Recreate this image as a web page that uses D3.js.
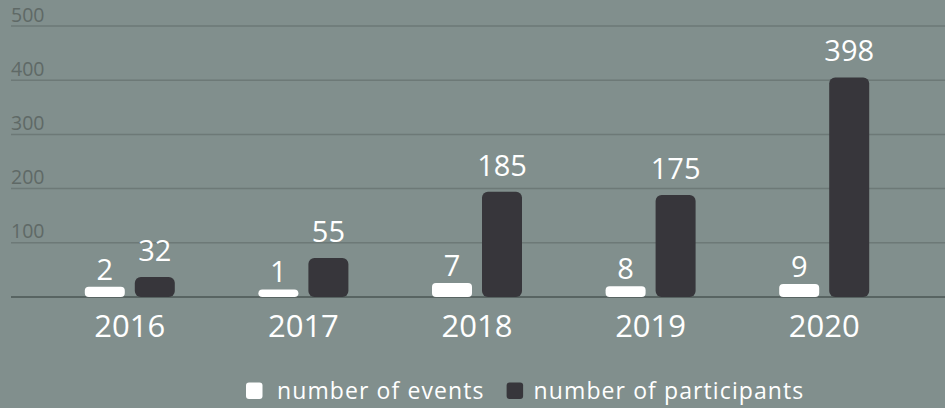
<!DOCTYPE html>
<html>
<head>
<meta charset="utf-8">
<script src="https://cdn.jsdelivr.net/npm/d3@7"></script>
<style>
  html, body { margin: 0; padding: 0; background: #818f8d; }
  svg { display: block; font-family: "Open Sans", sans-serif; }
</style>
</head>
<body>
<div id="chart"></div>
<script>
years = ["2016", "2017", "2018", "2019", "2020"]
// label values printed above the bars
eventLabels = [2, 1, 7, 8, 9]
participantLabels = [32, 55, 185, 175, 398]
// bar heights as drawn on the axis
eventBars = [19, 14, 26, 20, 24]
participantBars = [37, 72, 194, 188, 405]
yTicks = [100, 200, 300, 400, 500]
seriesNames = ["number of events", "number of participants"]

drawChart()

function drawChart() {
  const width = 945, height = 408

  const svg = d3.select("#chart")
    .append("svg")
    .attr("width", width)
    .attr("height", height)

  const x = d3.scaleBand()
    .domain(years)
    .range([43, 911])
    .padding(0)

  const sub = d3.scaleBand()
    .domain(["events", "participants"])
    .range([-45, 45])
    .paddingInner(0.2)

  const y = d3.scaleLinear()
    .domain([0, 500])
    .range([297, 26])

  // gridlines + y labels
  const grid = svg.append("g")
  grid.selectAll("line")
    .data(yTicks)
    .join("line")
    .attr("x1", 11)
    .attr("x2", width)
    .attr("y1", d => y(d))
    .attr("y2", d => y(d))
    .attr("stroke", "#6d7977")
    .attr("stroke-width", 1.5)

  grid.selectAll("text")
    .data(yTicks)
    .join("text")
    .attr("x", 11)
    .attr("y", d => y(d) - 4.5)
    .attr("fill", "#5f6966")
    .style("font-size", "19.5px")
    .text(d => d)

  // baseline
  svg.append("line")
    .attr("x1", 11)
    .attr("x2", width)
    .attr("y1", y(0))
    .attr("y2", y(0))
    .attr("stroke", "#4b5654")
    .attr("stroke-width", 1.5)

  let rows = years.map((yr, i) => ({
    year: yr,
    events: eventBars[i],
    participants: participantBars[i],
    eventLabel: eventLabels[i],
    participantLabel: participantLabels[i]
  }))

  const groups = svg.append("g")
    .selectAll("g")
    .data(rows)
    .join("g")
    .attr("transform", d => `translate(${x(d.year) + x.bandwidth() / 2},0)`)

  // events bars
  groups.append("rect")
    .attr("x", sub("events"))
    .attr("width", sub.bandwidth())
    .attr("y", d => y(d.events))
    .attr("height", d => y(0) - y(d.events))
    .attr("rx", 4)
    .attr("fill", "#ffffff")

  // participants bars
  groups.append("rect")
    .attr("x", sub("participants"))
    .attr("width", sub.bandwidth())
    .attr("y", d => y(d.participants))
    .attr("height", d => y(0) - y(d.participants))
    .attr("rx", 6)
    .attr("fill", "#37363b")

  // value labels
  groups.append("text")
    .attr("x", sub("events") + sub.bandwidth() / 2)
    .attr("y", d => y(d.events) - 7)
    .attr("text-anchor", "middle")
    .attr("fill", "#ffffff")
    .style("font-size", "29px")
    .text(d => d.eventLabel)

  groups.append("text")
    .attr("x", sub("participants") + sub.bandwidth() / 2)
    .attr("y", d => y(d.participants) - 16)
    .attr("text-anchor", "middle")
    .attr("fill", "#ffffff")
    .style("font-size", "29px")
    .text(d => d.participantLabel)

  // year labels
  groups.append("text")
    .attr("x", 0)
    .attr("y", 337)
    .attr("text-anchor", "middle")
    .attr("fill", "#ffffff")
    .style("font-size", "31px")
    .text(d => d.year)

  // legend
  const legend = svg.append("g")
  const colors = ["#ffffff", "#37363b"]
  let lx = 246
  seriesNames.forEach((name, i) => {
    legend.append("rect")
      .attr("x", lx)
      .attr("y", 382.5)
      .attr("width", 16.5)
      .attr("height", 16.5)
      .attr("rx", 3)
      .attr("fill", colors[i])
    let t = legend.append("text")
      .attr("x", lx + (i == 0 ? 31 : 27))
      .attr("y", 399)
      .attr("fill", "#ffffff")
      .style("font-size", "23px")
      .style("letter-spacing", "1.1px")
      .text(name)
    lx = lx + (i == 0 ? 31 : 27) + t.node().getComputedTextLength() + 22
  })
}
</script>
</body>
</html>
